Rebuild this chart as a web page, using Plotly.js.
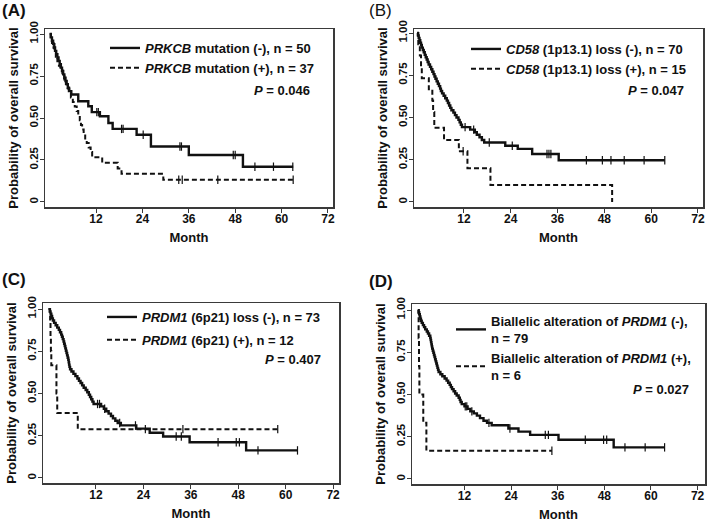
<!DOCTYPE html>
<html>
<head>
<meta charset="utf-8">
<script src="https://cdn.plot.ly/plotly-3.0.1.min.js"></script>
<style>html,body{margin:0;padding:0;background:#fff;}#chart{width:709px;height:522px;}</style>
</head>
<body>
<div id="chart"></div>
<script>
// ---------- DATA ----------
// Panel A: PRKCB mutation
var tA1 = [0,0.3,0.6,0.9,1.2,1.4,1.7,2.0,2.3,2.6,2.9,3.2,3.5,3.8,4.1,4.4,4.7,5.0,5.6,7.4,10.0,10.9,13.0,15.2,16.3,22.5,26.2,36.0,50.0,63.0];
var sA1 = [1,0.98,0.96,0.94,0.92,0.90,0.88,0.86,0.84,0.82,0.80,0.78,0.76,0.74,0.72,0.70,0.68,0.66,0.64,0.60,0.57,0.535,0.51,0.47,0.435,0.40,0.33,0.28,0.21,0.21];
var cA1 = [12.2,12.6,18.6,19.0,24.2,33.7,34.1,47.5,48.0,53.1,57.9,62.9];
var tA2 = [0,0.3,0.6,1.0,1.3,1.6,2.0,2.4,2.8,3.3,3.8,4.2,4.7,5.1,5.5,6.0,6.5,7.0,7.4,7.8,8.1,8.4,8.8,9.2,9.6,10.1,10.6,11.0,13.6,17.6,18.6,29.4,63.0];
var sA2 = [1,0.973,0.946,0.919,0.892,0.865,0.838,0.811,0.784,0.757,0.730,0.703,0.676,0.649,0.622,0.595,0.568,0.541,0.514,0.486,0.459,0.432,0.405,0.378,0.351,0.324,0.297,0.266,0.233,0.20,0.168,0.132,0.132];
var cA2 = [33.4,34.3,43.5,63.0];
var namesA = ['<i>PRKCB</i> mutation (-), n = 50', '<i>PRKCB</i> mutation (+), n = 37'];
var pA = '<i>P</i> = 0.046';

// Panel B: CD58 loss
var tB1 = [0,0.2,0.4,0.6,0.8,1.0,1.2,1.45,1.7,1.95,2.2,2.45,2.7,2.95,3.3,3.6,3.9,4.2,4.45,4.7,5.0,5.3,5.6,5.9,6.1,6.4,6.8,7.2,7.6,7.9,8.2,8.5,8.8,9.3,9.7,10.1,10.6,10.9,11.2,11.5,13.6,14.8,15.3,16.0,16.6,17.2,22.6,25.8,29.5,36.3,63.5];
var sB1 = [1,0.986,0.971,0.957,0.943,0.929,0.914,0.900,0.886,0.871,0.857,0.843,0.829,0.814,0.800,0.786,0.771,0.757,0.743,0.729,0.714,0.700,0.686,0.671,0.657,0.643,0.629,0.614,0.600,0.586,0.571,0.557,0.543,0.529,0.514,0.500,0.486,0.471,0.457,0.443,0.428,0.413,0.398,0.383,0.367,0.352,0.333,0.314,0.284,0.247,0.247];
var cB1 = [12.3,14.5,18.5,24.4,33.3,33.8,34.3,43.4,47.5,49.7,53.1,58.2,63.5];
var tB2 = [0,0.3,0.7,1.0,1.2,3.0,3.9,4.1,4.4,6.9,10.7,12.9,18.8,50.0];
var sB2 = [1,0.933,0.867,0.800,0.733,0.667,0.600,0.533,0.44,0.367,0.300,0.20,0.10,0];
var cB2 = [11.8];
var namesB = ['<i>CD58</i> (1p13.1) loss (-), n = 70', '<i>CD58</i> (1p13.1) loss (+), n = 15'];
var pB = '<i>P</i> = 0.047';

// Panel C: PRDM1 (6p21) loss
var tC1 = [0,0.3,0.5,0.7,0.9,1.1,1.4,1.8,2.2,2.6,2.9,3.2,3.4,3.6,3.8,3.95,4.1,4.25,4.4,4.55,4.7,4.85,5.0,5.1,5.2,5.3,5.45,5.8,6.3,6.8,7.3,7.7,8.1,8.5,8.9,9.4,9.8,10.2,10.5,10.8,11.1,11.4,13.3,14.0,14.6,15.2,15.8,16.3,16.9,17.5,18.3,22.2,25.6,29.0,35.7,50.0,63.0];
var sC1 = [1,0.986,0.973,0.959,0.945,0.932,0.918,0.904,0.890,0.877,0.863,0.849,0.836,0.822,0.808,0.795,0.781,0.767,0.753,0.740,0.726,0.712,0.699,0.685,0.671,0.658,0.644,0.630,0.616,0.603,0.589,0.575,0.562,0.548,0.534,0.521,0.507,0.493,0.479,0.466,0.452,0.438,0.424,0.410,0.395,0.381,0.367,0.353,0.339,0.325,0.311,0.292,0.268,0.245,0.211,0.163,0.163];
var cC1 = [12.4,12.9,14.2,18.0,22.0,32.3,33.6,42.9,47.5,48.3,53.0,63.0];
var tC2 = [0,0.4,0.5,0.6,0.7,2.0,2.2,7.4,58.0];
var sC2 = [1,0.917,0.833,0.75,0.667,0.5,0.385,0.289,0.289];
var cC2 = [24.5,34.0,58.0];
var namesC = ['<i>PRDM1</i> (6p21) loss (-), n = 73', '<i>PRDM1</i> (6p21) (+), n = 12'];
var pC = '<i>P</i> = 0.407';

// Panel D: biallelic alteration of PRDM1
var tD1 = [0,0.2,0.35,0.5,0.65,0.8,1.0,1.3,1.6,1.9,2.3,2.6,2.9,3.2,3.3,3.4,3.5,3.6,3.7,3.85,4.0,4.15,4.3,4.45,4.6,4.75,4.9,5.05,5.2,5.35,5.8,6.3,6.9,7.4,7.8,8.2,8.5,8.8,9.2,9.6,10.0,10.5,10.8,11.0,11.3,12.0,12.8,13.5,14.4,15.2,16.0,16.9,17.8,19.0,23.3,25.9,28.9,36.2,50.4,63.5];
var sD1 = [1,0.987,0.975,0.962,0.949,0.937,0.924,0.911,0.899,0.886,0.873,0.861,0.848,0.835,0.823,0.810,0.797,0.785,0.772,0.759,0.747,0.734,0.722,0.709,0.696,0.684,0.671,0.658,0.646,0.633,0.620,0.608,0.595,0.582,0.570,0.557,0.544,0.532,0.519,0.506,0.494,0.481,0.468,0.456,0.443,0.430,0.415,0.400,0.388,0.375,0.360,0.345,0.332,0.318,0.299,0.280,0.261,0.232,0.187,0.187];
var cD1 = [12.2,12.6,13.9,18.3,23.7,32.8,33.6,43.1,47.8,48.6,53.3,58.5,63.5];
var tD2 = [0,0.2,0.3,0.4,1.4,2.2,34.5];
var sD2 = [1,0.833,0.667,0.5,0.333,0.167,0.167];
var cD2 = [34.5];
var namesD = ['Biallelic alteration of <i>PRDM1</i> (-),<br>n = 79', 'Biallelic alteration of <i>PRDM1</i> (+),<br>n = 6'];
var pD = '<i>P</i> = 0.027';

var panelLabels = ['(A)', '(B)', '(C)', '(D)'];
var xTickVals = [12, 24, 36, 48, 60, 72];
var yTickVals = [0, 0.25, 0.5, 0.75, 1];
var yTickText = ['0', '0.25', '0.50', '0.75', '1.00'];
var xTitle = 'Month';
var yTitle = 'Probability of overall survival';

// ---------- LAYOUT / DRAWING ----------
var W = 709, H = 522;
var FONT = 'Liberation Sans, Arial, Helvetica, sans-serif';
var INK = '#111111';

function stepAt(t, ts, ss) {
  var s = ss[0];
  for (var i = 0; i < ts.length; i++) { if (ts[i] <= t) s = ss[i]; }
  return s;
}

var panels = [
  {t1:tA1,s1:sA1,c1:cA1,t2:tA2,s2:sA2,c2:cA2,names:namesA,p:pA,
   box:[45,333,29,207], xr:[-1.2,73.3], yr:[-0.030,1.030],
   leg:{x:105,y:33,gap:0}, pPos:[312,90], lab:[0,10,'bold']},
  {t1:tB1,s1:sB1,c1:cB1,t2:tB2,s2:sB2,c2:cB2,names:namesB,p:pB,
   box:[414,703,29,207], xr:[-0.8,73.3], yr:[-0.030,1.024],
   leg:{x:466,y:34,gap:0}, pPos:[686,90], lab:[367,10,'normal']},
  {t1:tC1,s1:sC1,c1:cC1,t2:tC2,s2:sC2,c2:cC2,names:namesC,p:pC,
   box:[43,339,303,483], xr:[-1.4,73.5], yr:[-0.030,1.036],
   leg:{x:102,y:302,gap:3}, pPos:[323,359], lab:[0,279,'bold']},
  {t1:tD1,s1:sD1,c1:cD1,t2:tD2,s2:sD2,c2:cD2,names:namesD,p:pD,
   box:[412,705,304,484], xr:[-1.5,73.9], yr:[-0.030,1.036],
   leg:{x:451,y:306,gap:0}, pPos:[691,389], lab:[367,281,'bold']}
];

var data = [];
var layout = {
  width: W, height: H,
  margin: {l:0, r:0, t:0, b:0},
  paper_bgcolor: '#ffffff', plot_bgcolor: '#ffffff',
  font: {family: FONT, size: 12, color: INK, weight: 'bold'},
  annotations: [],
  showlegend: true
};

panels.forEach(function (P, i) {
  var n = i === 0 ? '' : String(i + 1);
  var xa = 'x' + n, ya = 'y' + n;
  var legName = 'legend' + n;
  var group = P.leg.gap > 0;
  data.push({
    x: P.t1, y: P.s1, xaxis: xa, yaxis: ya, type: 'scatter', mode: 'lines',
    line: {shape: 'hv', color: INK, width: 2.4}, name: P.names[0], legend: legName,
    legendgroup: group ? 'g1' + i : undefined, hoverinfo: 'skip'
  });
  data.push({
    x: P.t2, y: P.s2, xaxis: xa, yaxis: ya, type: 'scatter', mode: 'lines',
    line: {shape: 'hv', color: INK, width: 2, dash: '5px,3px'}, name: P.names[1], legend: legName,
    legendgroup: group ? 'g2' + i : undefined, hoverinfo: 'skip'
  });
  data.push({
    x: P.c1, y: P.c1.map(function (t) { return stepAt(t, P.t1, P.s1); }),
    xaxis: xa, yaxis: ya, type: 'scatter', mode: 'markers', showlegend: false,
    marker: {symbol: 'line-ns-open', size: 6, color: INK, line: {color: INK, width: 1.2}}, hoverinfo: 'skip'
  });
  data.push({
    x: P.c2, y: P.c2.map(function (t) { return stepAt(t, P.t2, P.s2); }),
    xaxis: xa, yaxis: ya, type: 'scatter', mode: 'markers', showlegend: false,
    marker: {symbol: 'line-ns-open', size: 6, color: INK, line: {color: INK, width: 1.2}}, hoverinfo: 'skip'
  });

  var b = P.box;
  layout['xaxis' + n] = {
    domain: [b[0] / W, b[1] / W], range: P.xr, anchor: ya,
    showgrid: false, zeroline: false, showline: true, mirror: true,
    linecolor: '#3a3a3a', linewidth: 1.5,
    tickmode: 'array', tickvals: xTickVals, ticks: 'outside', ticklen: 4,
    tickwidth: 1, tickcolor: '#3a3a3a', ticklabelstandoff: -4,
    tickfont: {family: FONT, size: 12, color: INK, weight: 'bold'},
    title: {text: xTitle, font: {family: FONT, size: 13, color: INK, weight: 'bold'}, standoff: 8}
  };
  layout['yaxis' + n] = {
    domain: [1 - b[3] / H, 1 - b[2] / H], range: P.yr, anchor: xa,
    showgrid: false, zeroline: false, showline: true, mirror: true,
    linecolor: '#3a3a3a', linewidth: 1.5,
    tickmode: 'array', tickvals: yTickVals, ticktext: yTickText, tickangle: -90,
    ticks: 'outside', ticklen: 4, tickwidth: 1, tickcolor: '#3a3a3a', ticklabelstandoff: -3,
    tickfont: {family: FONT, size: 11.5, color: INK, weight: 'bold'},
    title: {text: yTitle, font: {family: FONT, size: 13, color: INK, weight: 'bold'}, standoff: 6}
  };
  layout[legName] = {
    x: P.leg.x / W, y: 1 - P.leg.y / H, xanchor: 'left', yanchor: 'top',
    bgcolor: 'rgba(0,0,0,0)', borderwidth: 0,
    font: {family: FONT, size: 13, color: INK, weight: 'bold'},
    traceorder: group ? 'grouped' : 'normal', tracegroupgap: P.leg.gap,
    itemclick: false, itemdoubleclick: false
  };
  layout.annotations.push({
    xref: 'paper', yref: 'paper', x: P.pPos[0] / W, y: 1 - P.pPos[1] / H,
    xanchor: 'right', yanchor: 'middle', showarrow: false, text: P.p,
    font: {family: FONT, size: 13, color: INK, weight: 'bold'}
  });
  layout.annotations.push({
    xref: 'paper', yref: 'paper', x: P.lab[0] / W, y: 1 - P.lab[1] / H,
    xanchor: 'left', yanchor: 'middle', showarrow: false, text: panelLabels[i],
    font: {family: FONT, size: 17, color: INK, weight: P.lab[2]}
  });
});

Plotly.newPlot('chart', data, layout, {staticPlot: true, displayModeBar: false});
</script>
</body>
</html>
